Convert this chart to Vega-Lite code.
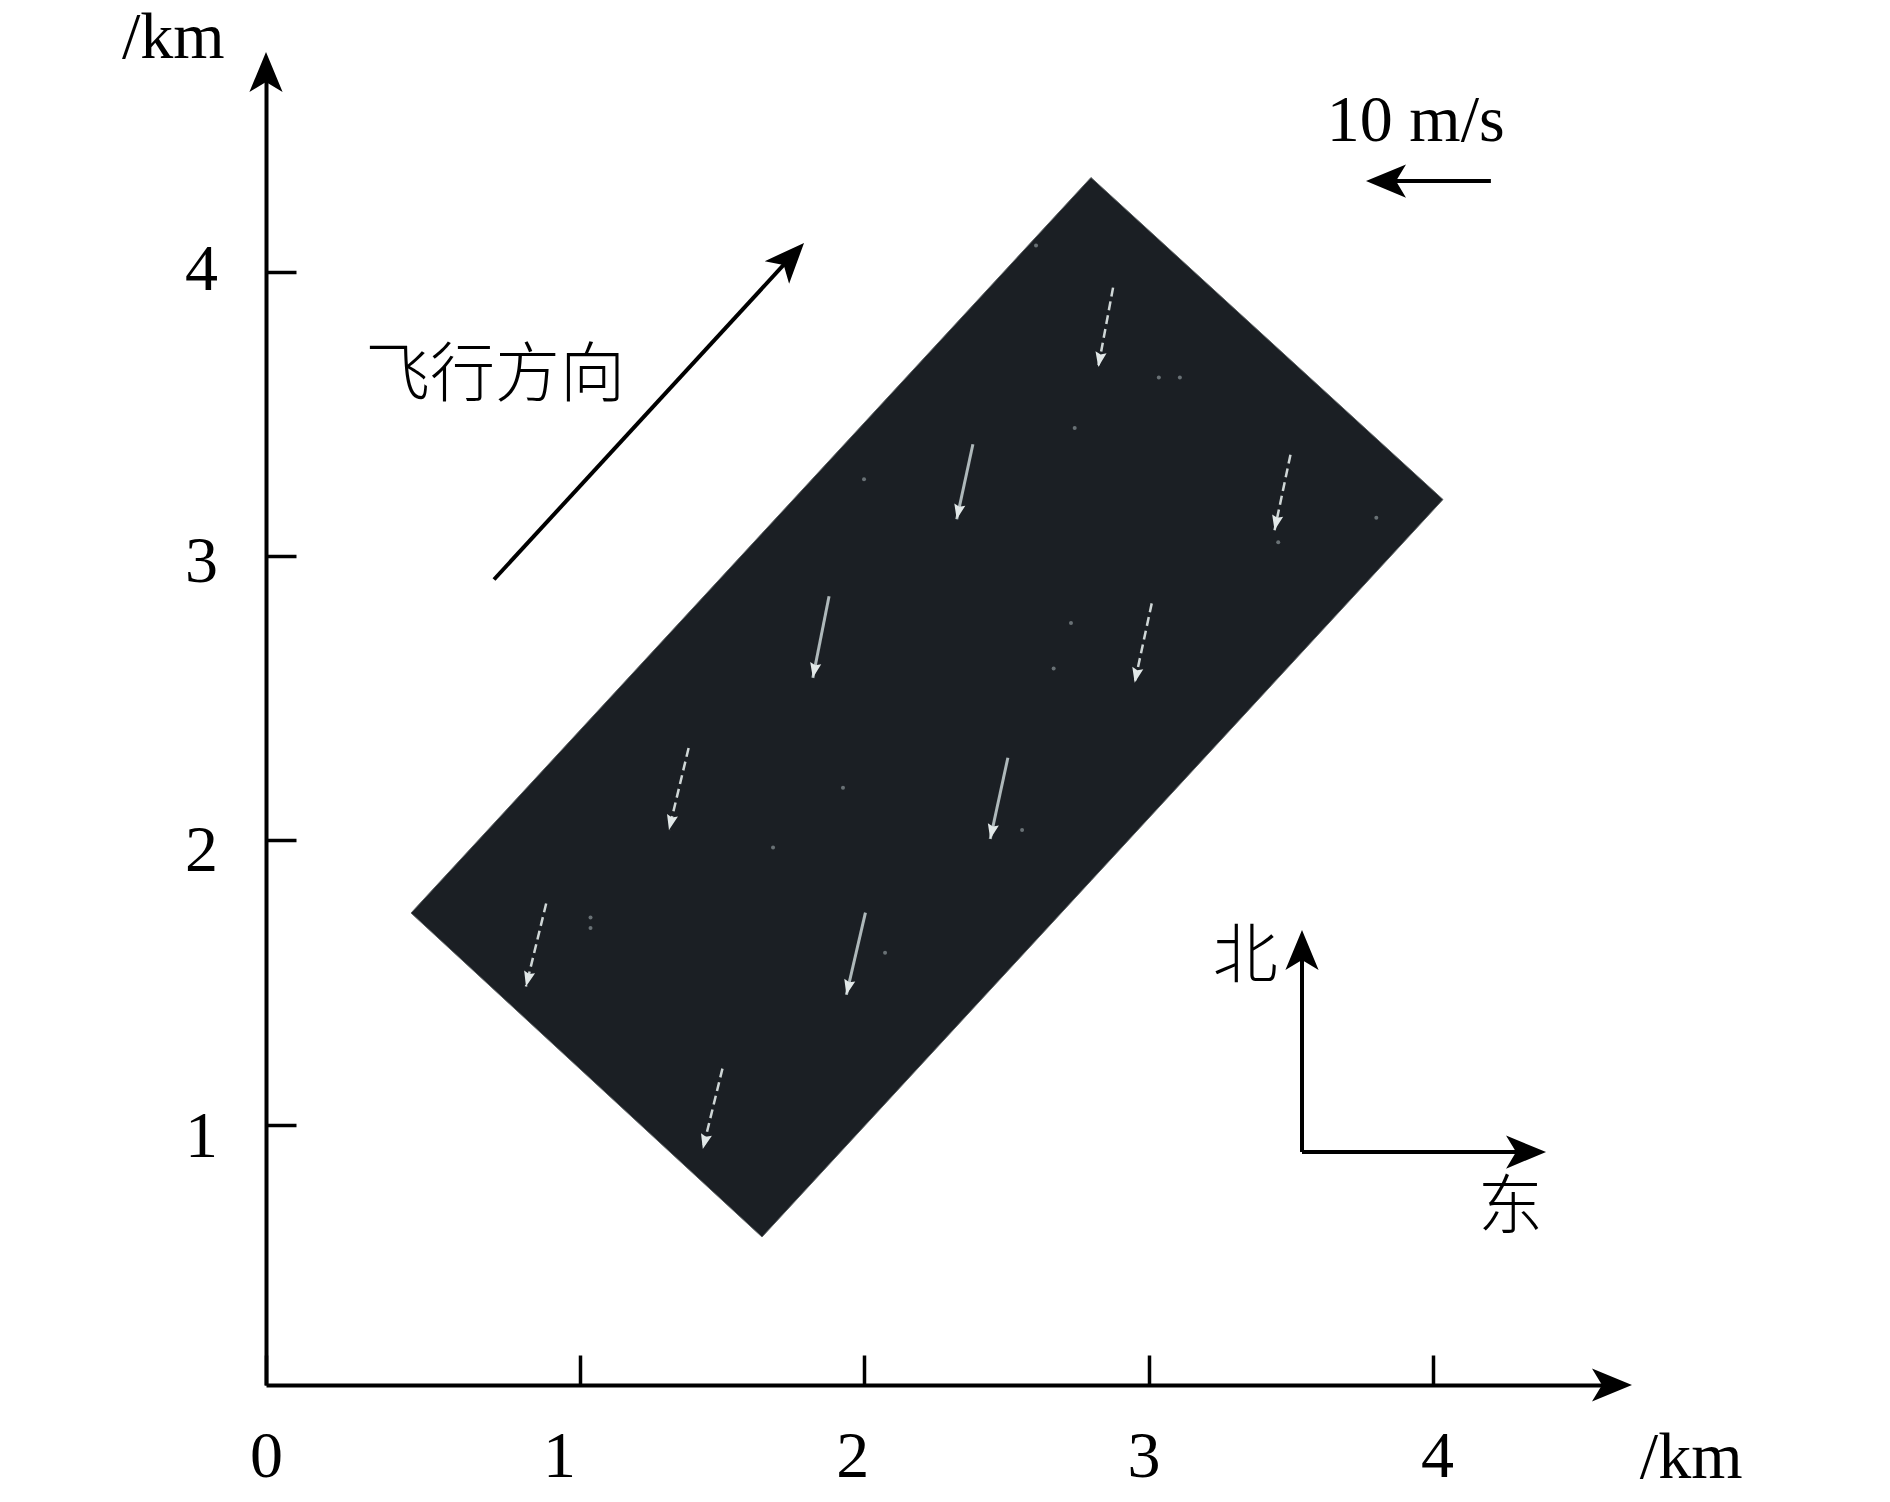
{
"$schema":"https://vega.github.io/schema/vega-lite/v6.json",
"autosize":{"type":"none"},
"padding":{"left":266,"top":72,"right":278,"bottom":117},
"width":1346,"height":1313,
"background":"#ffffff",
"config":{"view":{"stroke":null}},
"datasets":{
"wind":[
{"x":2.875,"y":3.945,"x2":2.823,"y2":3.666,"tipx":2.823,"tipy":3.666,"bearing":190.6,"trace":"dashed"},
{"x":2.382,"y":3.394,"x2":2.325,"y2":3.130,"tipx":2.325,"tipy":3.130,"bearing":192,"trace":"solid"},
{"x":3.499,"y":3.357,"x2":3.443,"y2":3.091,"tipx":3.443,"tipy":3.091,"bearing":192,"trace":"dashed"},
{"x":1.876,"y":2.859,"x2":1.819,"y2":2.572,"tipx":1.819,"tipy":2.572,"bearing":191,"trace":"solid"},
{"x":3.011,"y":2.834,"x2":2.951,"y2":2.555,"tipx":2.951,"tipy":2.555,"bearing":192,"trace":"dashed"},
{"x":1.382,"y":2.325,"x2":1.313,"y2":2.037,"tipx":1.313,"tipy":2.037,"bearing":193.5,"trace":"dashed"},
{"x":2.505,"y":2.291,"x2":2.443,"y2":2.005,"tipx":2.443,"tipy":2.005,"bearing":192,"trace":"solid"},
{"x":0.881,"y":1.778,"x2":0.810,"y2":1.486,"tipx":0.810,"tipy":1.486,"bearing":194,"trace":"dashed"},
{"x":2.004,"y":1.746,"x2":1.937,"y2":1.457,"tipx":1.937,"tipy":1.457,"bearing":193,"trace":"solid"},
{"x":1.501,"y":1.197,"x2":1.432,"y2":0.914,"tipx":1.432,"tipy":0.914,"bearing":194,"trace":"dashed"}
],
"arrows":[
{"name":"飞行方向","x":0.6975,"y":2.918,"x2":1.742,"y2":4.053},
{"name":"10 m/s","x":4.204,"y":4.320,"x2":3.8315,"y2":4.320},
{"name":"北","x":3.5396,"y":0.9035,"x2":3.5396,"y2":1.614},
{"name":"东","x":3.5396,"y":0.9035,"x2":4.324,"y2":0.9035}
],
"heads":[
{"name":"y轴","x":-0.1045,"y":4.774,"bearing":0},
{"name":"x轴","x":4.7003,"y":0.0838,"bearing":90},
{"name":"飞行方向","x":1.788,"y":4.102,"bearing":42.7},
{"name":"10 m/s","x":3.7647,"y":4.320,"bearing":270},
{"name":"北","x":3.5396,"y":1.685,"bearing":0},
{"name":"东","x":4.398,"y":0.9035,"bearing":90}
]
},
"encoding":{
"x":{"field":"x","type":"quantitative","scale":{"domain":[-0.1045,4.63],"nice":false,"zero":false},
"axis":{"title":null,"grid":false,"values":[-0.1045,1,2,3,4],"labelExpr":"datum.value<0?'0':format(datum.value,'d')",
"orient":"bottom","domainColor":"#000000","domainWidth":4,"tickColor":"#000000","tickWidth":3.5,"tickSize":-30,
"labelFont":"Liberation Serif","labelFontSize":66,"labelColor":"#000000","labelBaseline":"alphabetic","labelAlign":"center","labelPadding":121,
"labelOverlap":false,"labelBound":false,"labelFlush":false,
"labelOffset":{"condition":[{"test":"datum.value==1","value":-21},{"test":"datum.value==2","value":-12},{"test":"datum.value==3","value":-5},{"test":"datum.value==4","value":4}],"value":0}}},
"y":{"field":"y","type":"quantitative","scale":{"domain":[0.0838,4.7037],"nice":false,"zero":false},
"axis":{"title":null,"grid":false,"values":[1,2,3,4],"labelExpr":"format(datum.value,'d')",
"orient":"left","domainColor":"#000000","domainWidth":4,"tickColor":"#000000","tickWidth":3.5,"tickSize":-30,
"labelFont":"Liberation Serif","labelFontSize":66,"labelColor":"#000000","labelBaseline":"alphabetic","labelAlign":"center","labelPadding":95,
"labelOverlap":false,"labelBound":false,"labelFlush":false,
"labelOffset":{"condition":[{"test":"datum.value==4","value":18},{"test":"datum.value==3","value":25},{"test":"datum.value==2","value":30}],"value":32}}}
},
"layer":[
{"data":{"values":[
{"x":0.4056,"y":1.7445,"y2":1.7445},
{"x":1.6402,"y":3.0804,"y2":0.6045},
{"x":2.7974,"y":4.3325,"y2":1.8582},
{"x":4.0355,"y":3.1995,"y2":3.1995}
]},
"mark":{"type":"area","orient":"vertical","color":"#1b1f24","stroke":"#5f6466","strokeWidth":1,"interpolate":"linear"},
"encoding":{"y2":{"field":"y2"}}},
{"data":{"values":[
{"x":2.604,"y":4.093},{"x":2.740,"y":3.451},{"x":1.999,"y":3.271},{"x":3.110,"y":3.629},{"x":3.801,"y":3.135},
{"x":2.727,"y":2.765},{"x":2.666,"y":2.605},{"x":1.925,"y":2.185},{"x":2.555,"y":2.037},{"x":1.037,"y":1.729},
{"x":2.073,"y":1.605},{"x":3.456,"y":3.049},{"x":1.679,"y":1.975},{"x":3.036,"y":3.629},{"x":1.037,"y":1.692}
]},
"mark":{"type":"point","filled":true,"color":"#8a9498","size":16,"opacity":0.7}},
{"data":{"name":"wind"},"transform":[{"filter":"datum.trace=='dashed'"}],
"mark":{"type":"rule","color":"#cfd6d6","strokeWidth":2.5,"strokeDash":[9,5]},
"encoding":{"x2":{"field":"x2"},"y2":{"field":"y2"}}},
{"data":{"name":"wind"},"transform":[{"filter":"datum.trace=='solid'"}],
"mark":{"type":"rule","color":"#aeb8ba","strokeWidth":3},
"encoding":{"x2":{"field":"x2"},"y2":{"field":"y2"}}},
{"data":{"name":"wind"},
"mark":{"type":"point","filled":true,"color":"#e2e8e8","opacity":1,"size":225,"shape":"M0,0 L0.75,2 L0,1.7 L-0.75,2 Z"},
"encoding":{"x":{"field":"tipx","type":"quantitative"},"y":{"field":"tipy","type":"quantitative"},"angle":{"field":"bearing","type":"quantitative","scale":null}}},
{"data":{"name":"arrows"},
"mark":{"type":"rule","color":"#000000","strokeWidth":4},
"encoding":{"x2":{"field":"x2"},"y2":{"field":"y2"}}},
{"data":{"name":"heads"},
"mark":{"type":"point","filled":true,"color":"#000000","opacity":1,"size":1600,"shape":"M0,0 L0.83,2 L0,1.5 L-0.83,2 Z"},
"encoding":{"angle":{"field":"bearing","type":"quantitative","scale":null}}},
{"data":{"values":[
{"x":-0.611,"y":4.753,"label":"/km"},
{"x":4.728,"y":-0.243,"label":"/km"},
{"x":3.627,"y":4.461,"label":"10 m/s"}
]},
"mark":{"type":"text","font":"Liberation Serif","fontSize":66,"align":"left","baseline":"alphabetic","color":"#000000"},
"encoding":{"text":{"field":"label"}}},
{"data":{"values":[
{"x":0.244,"y":3.565,"label":"飞行方向"},
{"x":3.226,"y":1.519,"label":"北"},
{"x":4.159,"y":0.636,"label":"东"}
]},
"mark":{"type":"text","font":"Noto Sans CJK SC","fontSize":65,"fontWeight":300,"align":"left","baseline":"alphabetic","color":"#000000"},
"encoding":{"text":{"field":"label"}}}
]
}
